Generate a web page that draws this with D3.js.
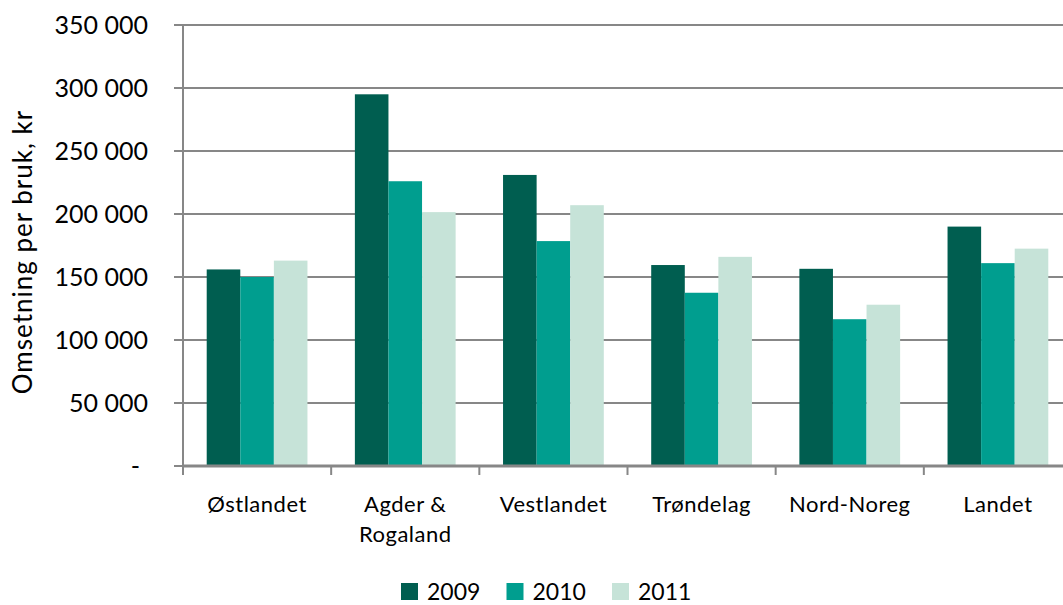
<!DOCTYPE html>
<html lang="no">
<head>
<meta charset="UTF-8">
<script src="https://cdn.jsdelivr.net/npm/d3@7"></script>
<style>
  body { margin: 0; background: #fff; }
  text { font-family: Lato, "Open Sans", sans-serif; fill: #000; }
</style>
</head>
<body>
<div id="chart"></div>
<script>
// data
var categories = ["Østlandet", "Agder & Rogaland", "Vestlandet", "Trøndelag", "Nord-Noreg", "Landet"];
var years = ["2009", "2010", "2011"];
var v2009 = [156000, 295000, 231000, 159500, 156500, 190000];
var v2010 = [150000, 226000, 178500, 137500, 116500, 161000];
var v2011 = [163000, 201500, 207000, 166000, 128000, 172500];
var yTicks = [0, 50000, 100000, 150000, 200000, 250000, 300000, 350000];
var colors = ["#005e50", "#009e8f", "#c6e3d8"];

var width = 1063, height = 605;
var margin = { top: 25, right: -9, bottom: 139, left: 183 };
var series = [v2009, v2010, v2011];

var svg = d3.select("#chart").append("svg")
    .attr("width", width)
    .attr("height", height);

var x0 = d3.scaleBand()
    .domain(categories)
    .range([margin.left, width - margin.right])
    .paddingInner(0.32)
    .paddingOuter(0.16);

var x1 = d3.scaleBand()
    .domain(years)
    .range([0, x0.bandwidth()]);

var y = d3.scaleLinear()
    .domain([0, 350000])
    .range([height - margin.bottom, margin.top]);

var fmt = function (d) {
    if (d === 0) return "-";
    return d3.format(",")(d).replace(/,/g, " ");
};

// gridlines
svg.append("g")
    .selectAll("line")
    .data(yTicks)
    .join("line")
    .attr("x1", margin.left - 9)
    .attr("x2", width)
    .attr("y1", function (d) { return y(d); })
    .attr("y2", function (d) { return y(d); })
    .attr("stroke", "#878787")
    .attr("stroke-width", 2);

// y labels
svg.append("g")
    .selectAll("text")
    .data(yTicks)
    .join("text")
    .attr("x", function (d) { return d === 0 ? 140 : 148; })
    .attr("y", function (d) { return y(d); })
    .attr("dy", "0.35em")
    .attr("text-anchor", "end")
    .style("font-size", "25px")
    .text(fmt);

// bars
var rows = [];
categories.forEach(function (c, i) {
    years.forEach(function (yr, j) {
        rows.push({ cat: c, year: yr, value: series[j][i], color: colors[j] });
    });
});

svg.append("g")
    .selectAll("rect")
    .data(rows)
    .join("rect")
    .attr("x", function (d) { return x0(d.cat) + x1(d.year); })
    .attr("width", x1.bandwidth())
    .attr("y", function (d) { return y(d.value); })
    .attr("height", function (d) { return y(0) - y(d.value); })
    .attr("fill", function (d) { return d.color; });

// axes lines
var step = x0.step();
svg.append("line")
    .attr("x1", margin.left).attr("x2", margin.left)
    .attr("y1", margin.top).attr("y2", y(0) + 9)
    .attr("stroke", "#878787").attr("stroke-width", 2);
svg.append("line")
    .attr("x1", margin.left).attr("x2", width)
    .attr("y1", y(0)).attr("y2", y(0))
    .attr("stroke", "#878787").attr("stroke-width", 3);

// category ticks
svg.append("g")
    .selectAll("line")
    .data(categories)
    .join("line")
    .attr("x1", function (d) { return x0(d) - step * 0.16; })
    .attr("x2", function (d) { return x0(d) - step * 0.16; })
    .attr("y1", y(0))
    .attr("y2", y(0) + 9)
    .attr("stroke", "#878787")
    .attr("stroke-width", 2);

// category labels
var catLabels = svg.append("g")
    .selectAll("text")
    .data(categories)
    .join("text")
    .attr("y", 512)
    .attr("text-anchor", "middle")
    .style("font-size", "22px")
    .style("letter-spacing", "0.5px");

catLabels.each(function (d) {
    var lines = d === "Agder & Rogaland" ? ["Agder &", "Rogaland"] : [d];
    var t = d3.select(this);
    lines.forEach(function (l, k) {
        t.append("tspan")
            .attr("x", x0(d) + x0.bandwidth() / 2)
            .attr("dy", k === 0 ? 0 : 30)
            .text(l);
    });
});

// y title
svg.append("text")
    .attr("transform", "translate(32,252) rotate(-90)")
    .attr("text-anchor", "middle")
    .style("font-size", "26px")
    .style("letter-spacing", "1px")
    .text("Omsetning per bruk, kr");

// legend
var legend = svg.append("g")
    .selectAll("g")
    .data(years)
    .join("g")
    .attr("transform", function (d, i) { return "translate(" + (401 + i * 105.5) + ",583)"; });

legend.append("rect")
    .attr("width", 17)
    .attr("height", 17)
    .attr("fill", function (d, i) { return colors[i]; });

legend.append("text")
    .attr("x", 26)
    .attr("y", 17)
    .style("font-size", "23px")
    .text(function (d) { return d; });
</script>
</body>
</html>
